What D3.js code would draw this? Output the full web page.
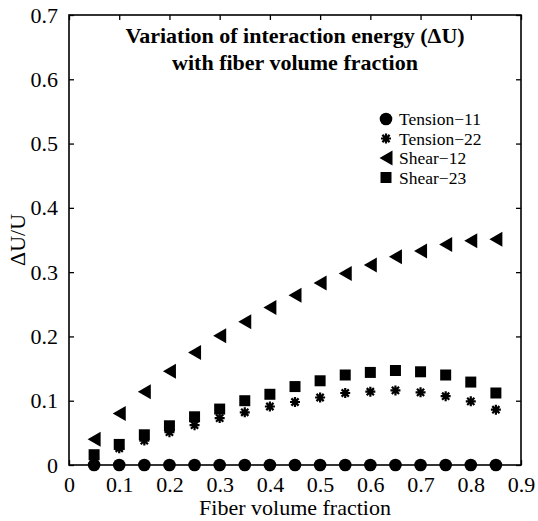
<!DOCTYPE html>
<html lang="en">
<head>
<meta charset="UTF-8">
<title>Interaction energy vs fiber volume fraction</title>
<script src="https://d3js.org/d3.v7.min.js"></script>
<style>
    body { margin: 0; background: #fff; }
</style>
</head>
<body>
<svg id="chart" width="538" height="521"></svg>
<script>
    // data
    const fractions = [0.05, 0.1, 0.15, 0.2, 0.25, 0.3, 0.35, 0.4, 0.45, 0.5, 0.55, 0.6, 0.65, 0.7, 0.75, 0.8, 0.85];
    const tension11 = [0, 0, 0, 0, 0, 0, 0, 0, 0, 0, 0, 0, 0, 0, 0, 0, 0];
    const tension22 = [0.010, 0.026, 0.038, 0.051, 0.062, 0.073, 0.082, 0.091, 0.098, 0.105, 0.112, 0.114, 0.116, 0.113, 0.107, 0.099, 0.086];
    const shear12 = [0.040, 0.080, 0.114, 0.146, 0.175, 0.201, 0.223, 0.245, 0.264, 0.283, 0.298, 0.311, 0.324, 0.333, 0.343, 0.349, 0.351];
    const shear23 = [0.016, 0.032, 0.047, 0.061, 0.075, 0.087, 0.100, 0.110, 0.122, 0.131, 0.140, 0.144, 0.147, 0.145, 0.140, 0.129, 0.112];
    const seriesNames = ["Tension\u221211", "Tension\u221222", "Shear\u221212", "Shear\u221223"];
    const xTicks = [0, 0.1, 0.2, 0.3, 0.4, 0.5, 0.6, 0.7, 0.8, 0.9];
    const yTicks = [0, 0.1, 0.2, 0.3, 0.4, 0.5, 0.6, 0.7];

    const serif = "'Liberation Serif', 'Times New Roman', serif";

    const svg = d3.select("#chart").style("font-family", serif);
    const margin = { left: 69, right: 17, top: 15, bottom: 56 };
    const width = 538 - margin.left - margin.right;
    const height = 521 - margin.top - margin.bottom;
    const g = svg.append("g").attr("transform", `translate(${margin.left},${margin.top})`);

    const x = d3.scaleLinear().domain([0, 0.9]).range([0, width]);
    const y = d3.scaleLinear().domain([0, 0.7]).range([height, 0]);

    // marker shapes
    const markers = {
        circle: "M6.3,0A6.3,6.3,0,1,1,-6.3,0A6.3,6.3,0,1,1,6.3,0Z",
        asterisk: "M-5,0L5,0M0,-5L0,5M-3.6,-3.6L3.6,3.6M-3.6,3.6L3.6,-3.6",
        triangle: "M-6.5,0L6.5,-7.5L6.5,7.5Z",
        square: "M-5.5,-5.5H5.5V5.5H-5.5Z"
    };

    const series = [
        { name: seriesNames[0], values: tension11, shape: "circle" },
        { name: seriesNames[1], values: tension22, shape: "asterisk" },
        { name: seriesNames[2], values: shear12, shape: "triangle" },
        { name: seriesNames[3], values: shear23, shape: "square" }
    ];

    function styleMarker(sel, shape) {
        if (shape === "asterisk") {
            sel.attr("fill", "none").attr("stroke", "#000").attr("stroke-width", 2.2);
        } else {
            sel.attr("fill", "#000").attr("stroke", "none");
        }
    }

    // axes box with inward ticks
    const tickLen = 5;
    g.append("g").attr("transform", `translate(0,${height})`)
        .call(d3.axisBottom(x).tickValues(xTicks).tickSizeInner(-tickLen).tickSizeOuter(0).tickPadding(11).tickFormat(d3.format("~g")));
    g.append("g")
        .call(d3.axisTop(x).tickValues(xTicks).tickSizeInner(-tickLen).tickSizeOuter(0).tickFormat(""));
    g.append("g")
        .call(d3.axisLeft(y).tickValues(yTicks).tickSizeInner(-tickLen).tickSizeOuter(0).tickPadding(11).tickFormat(d3.format("~g")));
    g.append("g").attr("transform", `translate(${width},0)`)
        .call(d3.axisRight(y).tickValues(yTicks).tickSizeInner(-tickLen).tickSizeOuter(0).tickFormat(""));

    g.selectAll(".domain").remove();
    g.selectAll(".tick line").attr("stroke", "#000").attr("stroke-width", 1.3);
    g.selectAll(".tick text").style("font-family", serif).style("font-size", "22px").attr("fill", "#000");

    g.append("rect")
        .attr("width", width).attr("height", height)
        .attr("fill", "none").attr("stroke", "#000").attr("stroke-width", 1.6);

    // data points
    series.forEach(s => {
        const pts = g.append("g").selectAll("path")
            .data(s.values.map((v, i) => ({ fx: fractions[i], v })))
            .enter().append("path")
            .attr("d", markers[s.shape])
            .attr("transform", d => `translate(${x(d.fx)},${y(d.v)})`);
        styleMarker(pts, s.shape);
    });

    // title
    const title = svg.append("text")
        .attr("x", margin.left + width / 2).attr("y", 43)
        .attr("text-anchor", "middle")
        .style("font-family", serif).style("font-size", "22px").style("font-weight", "bold");
    title.append("tspan").attr("x", margin.left + width / 2).attr("dy", 0).text("Variation of interaction energy (\u0394U)");
    title.append("tspan").attr("x", margin.left + width / 2).attr("dy", 26.5).text("with fiber volume fraction");

    // legend
    const legend = svg.append("g").attr("transform", "translate(386,119)");
    series.forEach((s, i) => {
        const row = legend.append("g").attr("transform", `translate(0,${i * 19.5})`);
        const m = row.append("path").attr("d", markers[s.shape]);
        styleMarker(m, s.shape);
        row.append("text").attr("x", 13).attr("y", 6)
            .style("font-family", serif).style("font-size", "17.5px").text(s.name);
    });

    // axis labels
    svg.append("text")
        .attr("x", margin.left + width / 2).attr("y", 515)
        .attr("text-anchor", "middle")
        .style("font-family", serif).style("font-size", "22px")
        .text("Fiber volume fraction");
    svg.append("text")
        .attr("transform", `translate(25,${margin.top + height / 2}) rotate(-90)`)
        .attr("text-anchor", "middle")
        .style("font-family", serif).style("font-size", "22px")
        .text("\u0394U/U");
</script>
</body>
</html>
